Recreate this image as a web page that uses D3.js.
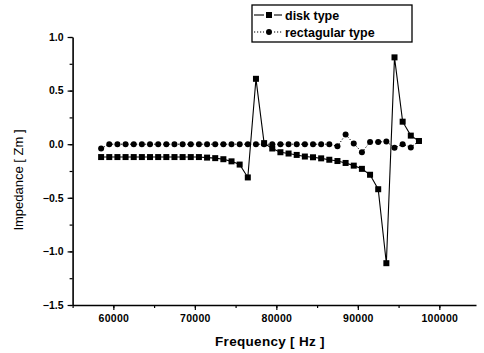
<!DOCTYPE html>
<html>
<head>
<meta charset="utf-8">
<script src="https://cdn.jsdelivr.net/npm/d3@7"></script>
<style>
  body { margin: 0; background: #fff; }
  svg { display: block; font-family: "Liberation Sans", Arial, sans-serif; }
</style>
</head>
<body>
<svg id="chart" width="484" height="353"></svg>
<script>
// measured frequencies (Hz)
const freqs = [58500, 59500, 60500, 61500, 62500, 63500, 64500, 65500, 66500, 67500,
               68500, 69500, 70500, 71500, 72500, 73500, 74500, 75500, 76500, 77500,
               78500, 79500, 80500, 81500, 82500, 83500, 84500, 85500, 86500, 87500,
               88500, 89500, 90500, 91500, 92500, 93500, 94500, 95500, 96500, 97500];

const diskType = [-0.12, -0.12, -0.12, -0.12, -0.12, -0.12, -0.12, -0.12, -0.12, -0.12,
                  -0.12, -0.12, -0.12, -0.125, -0.13, -0.14, -0.16, -0.19, -0.31, 0.61,
                  0.01, -0.04, -0.075, -0.087, -0.1, -0.115, -0.122, -0.132, -0.145, -0.157,
                  -0.175, -0.2, -0.23, -0.285, -0.42, -1.11, 0.81, 0.21, 0.08, 0.03];

const rectType = [-0.04, 0.0, 0.0, 0.0, 0.0, 0.0, 0.0, 0.0, 0.0, 0.0,
                  0.0, 0.0, 0.0, 0.0, 0.0, 0.0, 0.0, 0.0, 0.0, 0.0,
                  0.0, 0.0, 0.0, 0.0, 0.0, 0.0, 0.0, 0.0, 0.0, -0.02,
                  0.09, 0.006, -0.075, 0.02, 0.02, 0.025, -0.034, 0.0, -0.03, 0.03];

const xTicks = [60000, 70000, 80000, 90000, 100000];
const yTicks = [-1.5, -1.0, -0.5, 0.0, 0.5, 1.0];

const svg = d3.select('#chart');

const x = d3.scaleLinear().domain([55000, 104500]).range([72.6, 476]);
const y = d3.scaleLinear().domain([-1.5, 1.0]).range([305, 37]);

// minor ticks
svg.append('g').attr('transform', 'translate(0,305)')
  .call(d3.axisBottom(x).tickValues(d3.range(55000, 104501, 5000)).tickSize(3).tickFormat(''))
  .call(g => g.select('.domain').remove());
svg.append('g').attr('transform', 'translate(72.6,0)')
  .call(d3.axisLeft(y).tickValues(d3.range(-1.5, 1.001, 0.25)).tickSize(3).tickFormat(''))
  .call(g => g.select('.domain').remove());

// major axes
const xAxis = svg.append('g').attr('transform', 'translate(0,305)')
  .call(d3.axisBottom(x).tickValues(xTicks).tickSize(5).tickSizeOuter(0).tickPadding(5).tickFormat(d3.format('d')));
const yAxis = svg.append('g').attr('transform', 'translate(72.6,0)')
  .call(d3.axisLeft(y).tickValues(yTicks).tickSize(5).tickSizeOuter(0).tickPadding(4).tickFormat(d3.format('.1f')));

svg.selectAll('.domain').attr('stroke', '#000').attr('stroke-width', 1.6);
svg.selectAll('.tick line').attr('stroke', '#000').attr('stroke-width', 1.2);
xAxis.selectAll('text').attr('font-size', 10.5).attr('font-weight', 'bold').attr('fill', '#000')
  .attr('letter-spacing', 0.3);
yAxis.selectAll('text').attr('font-size', 10.5).attr('font-weight', 'bold').attr('fill', '#000');

// axis titles
svg.append('text').attr('x', 270).attr('y', 346).attr('text-anchor', 'middle')
  .attr('font-size', 13.5).attr('font-weight', 'bold').attr('letter-spacing', 0.3).text('Frequency [ Hz ]');
svg.append('text').attr('transform', 'translate(23,180) rotate(-90)').attr('text-anchor', 'middle')
  .attr('font-size', 13).text('Impedance  [ Zm ]');

// series
const diskData = freqs.map((f, i) => [f, diskType[i]]);
const rectData = freqs.map((f, i) => [f, rectType[i]]);
const line = d3.line().x(d => x(d[0])).y(d => y(d[1]));

svg.append('path').datum(rectData).attr('d', line)
  .attr('fill', 'none').attr('stroke', '#000').attr('stroke-width', 1).attr('stroke-dasharray', '1.2,1.8');
svg.append('path').datum(diskData).attr('d', line)
  .attr('fill', 'none').attr('stroke', '#000').attr('stroke-width', 1.1);

svg.append('g').selectAll('circle').data(rectData).enter().append('circle')
  .attr('cx', d => x(d[0])).attr('cy', d => y(d[1])).attr('r', 3).attr('fill', '#000');
svg.append('g').selectAll('rect').data(diskData).enter().append('rect')
  .attr('x', d => x(d[0]) - 3).attr('y', d => y(d[1]) - 3)
  .attr('width', 6).attr('height', 6).attr('fill', '#000');

// legend
const lg = svg.append('g');
lg.append('rect').attr('x', 252).attr('y', 5).attr('width', 160).attr('height', 37)
  .attr('fill', '#fff').attr('stroke', '#000').attr('stroke-width', 1.3);
const legendItems = [
  { label: 'disk type', dash: null, shape: 'square', y: 15 },
  { label: 'rectagular type', dash: '1.2,1.8', shape: 'circle', y: 32 }
];
legendItems.forEach(it => {
  [[254, 264], [274, 282]].forEach(([a, b]) => {
    lg.append('line').attr('x1', a).attr('x2', b).attr('y1', it.y).attr('y2', it.y)
      .attr('stroke', '#000').attr('stroke-width', 1.1).attr('stroke-dasharray', it.dash);
  });
  if (it.shape === 'square') {
    lg.append('rect').attr('x', 266).attr('y', it.y - 3).attr('width', 6).attr('height', 6).attr('fill', '#000');
  } else {
    lg.append('circle').attr('cx', 269).attr('cy', it.y).attr('r', 3).attr('fill', '#000');
  }
  lg.append('text').attr('x', 285).attr('y', it.y + 4.5).attr('font-size', 12.5)
    .attr('font-weight', 'bold').text(it.label);
});
</script>
</body>
</html>
